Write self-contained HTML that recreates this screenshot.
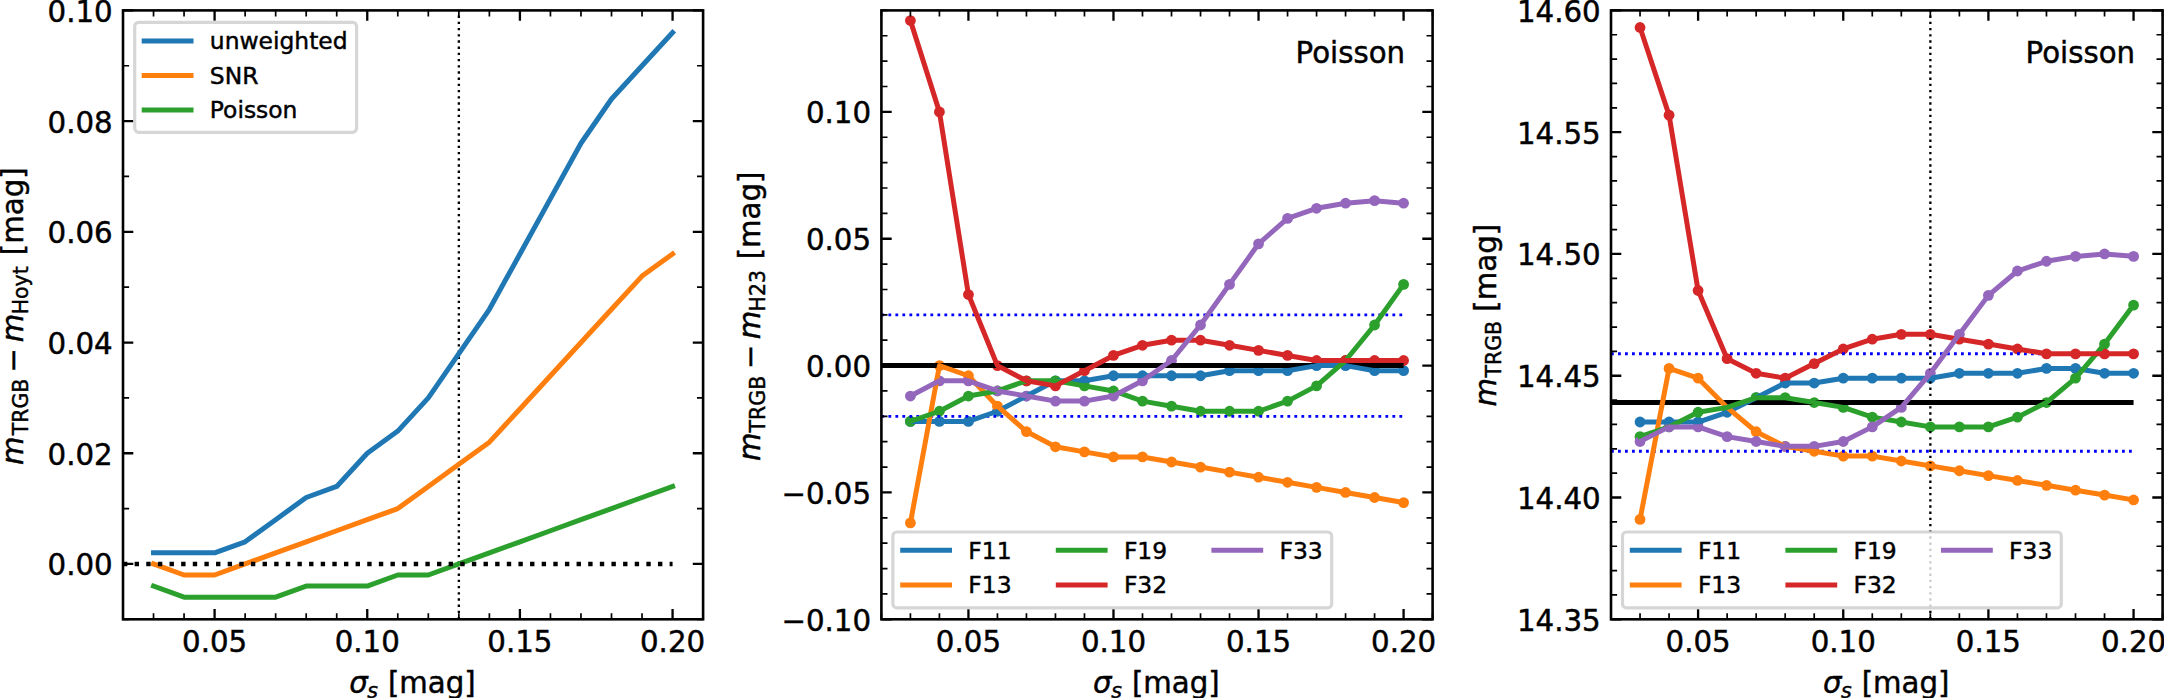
<!DOCTYPE html>
<html lang="en"><head><meta charset="utf-8"><title>TRGB smoothing comparison</title>
<style>html,body{margin:0;padding:0;background:#fff}svg{display:block}text{font-family:"DejaVu Sans", "Liberation Sans", sans-serif;font-size:29.25px;fill:#000;stroke:#000;stroke-width:.45px}</style>
</head><body>
<svg width="2164" height="698" viewBox="0 0 2164 698">
<rect width="2164" height="698" fill="#fff"/>
<g id="panel1">
<line x1="458.85" y1="619.3" x2="458.85" y2="10.4" stroke="#000" stroke-width="2.34" stroke-dasharray="2.34 3.86"/>
<polyline points="153.53,552.87 184.06,552.87 214.59,552.87 245.13,541.8 275.66,519.66 306.19,497.52 336.72,486.45 367.25,453.24 397.78,431.09 428.32,397.88 458.85,353.6 489.38,309.31 519.91,253.96 550.44,198.61 580.97,143.25 611.51,98.97 642.04,65.75 672.57,32.54" fill="none" stroke="#1f77b4" stroke-width="5.0" stroke-linecap="square" stroke-linejoin="round"/>
<polyline points="153.53,563.95 184.06,575.02 214.59,575.02 245.13,563.95 275.66,552.87 306.19,541.8 336.72,530.73 367.25,519.66 397.78,508.59 428.32,486.45 458.85,464.31 489.38,442.17 519.91,408.95 550.44,375.74 580.97,342.53 611.51,309.31 642.04,276.1 672.57,253.96" fill="none" stroke="#ff7f0e" stroke-width="5.0" stroke-linecap="square" stroke-linejoin="round"/>
<polyline points="153.53,586.09 184.06,597.16 214.59,597.16 245.13,597.16 275.66,597.16 306.19,586.09 336.72,586.09 367.25,586.09 397.78,575.02 428.32,575.02 458.85,563.95 489.38,552.87 519.91,541.8 550.44,530.73 580.97,519.66 611.51,508.59 642.04,497.52 672.57,486.45" fill="none" stroke="#2ca02c" stroke-width="5.0" stroke-linecap="square" stroke-linejoin="round"/>
<line x1="123" y1="563.95" x2="672.57" y2="563.95" stroke="#000" stroke-width="4.4" stroke-dasharray="4.39 7.24"/>
<path d="M214.59 619.3v-10.3 M214.59 10.4v10.3 M367.25 619.3v-10.3 M367.25 10.4v10.3 M519.91 619.3v-10.3 M519.91 10.4v10.3 M672.57 619.3v-10.3 M672.57 10.4v10.3 M123 563.95h10.3 M703.1 563.95h-10.3 M123 453.24h10.3 M703.1 453.24h-10.3 M123 342.53h10.3 M703.1 342.53h-10.3 M123 231.82h10.3 M703.1 231.82h-10.3 M123 121.11h10.3 M703.1 121.11h-10.3 M123 10.4h10.3 M703.1 10.4h-10.3" stroke="#000" stroke-width="2.3" fill="none"/>
<path d="M123 619.3v-6.1 M123 10.4v6.1 M153.53 619.3v-6.1 M153.53 10.4v6.1 M184.06 619.3v-6.1 M184.06 10.4v6.1 M245.13 619.3v-6.1 M245.13 10.4v6.1 M275.66 619.3v-6.1 M275.66 10.4v6.1 M306.19 619.3v-6.1 M306.19 10.4v6.1 M336.72 619.3v-6.1 M336.72 10.4v6.1 M397.78 619.3v-6.1 M397.78 10.4v6.1 M428.32 619.3v-6.1 M428.32 10.4v6.1 M458.85 619.3v-6.1 M458.85 10.4v6.1 M489.38 619.3v-6.1 M489.38 10.4v6.1 M550.44 619.3v-6.1 M550.44 10.4v6.1 M580.97 619.3v-6.1 M580.97 10.4v6.1 M611.51 619.3v-6.1 M611.51 10.4v6.1 M642.04 619.3v-6.1 M642.04 10.4v6.1 M703.1 619.3v-6.1 M703.1 10.4v6.1 M123 619.3h6.1 M703.1 619.3h-6.1 M123 508.59h6.1 M703.1 508.59h-6.1 M123 397.88h6.1 M703.1 397.88h-6.1 M123 287.17h6.1 M703.1 287.17h-6.1 M123 176.46h6.1 M703.1 176.46h-6.1 M123 65.75h6.1 M703.1 65.75h-6.1" stroke="#000" stroke-width="1.7" fill="none"/>
<rect x="123" y="10.4" width="580.1" height="608.9" fill="none" stroke="#000" stroke-width="2.6"/>
<text x="214.59" y="651.9" text-anchor="middle">0.05</text>
<text x="367.25" y="651.9" text-anchor="middle">0.10</text>
<text x="519.91" y="651.9" text-anchor="middle">0.15</text>
<text x="672.57" y="651.9" text-anchor="middle">0.20</text>
<text x="112.7" y="575.45" text-anchor="end">0.00</text>
<text x="112.7" y="464.74" text-anchor="end">0.02</text>
<text x="112.7" y="354.03" text-anchor="end">0.04</text>
<text x="112.7" y="243.32" text-anchor="end">0.06</text>
<text x="112.7" y="132.61" text-anchor="end">0.08</text>
<text x="112.7" y="21.9" text-anchor="end">0.10</text>
<text y="692.7"><tspan x="349.15" font-style="italic">σ</tspan><tspan x="367.35" dy="4.8" style="font-size:20.47px" font-style="italic">s</tspan><tspan x="378.65" dy="-4.8"> [mag]</tspan></text>
<rect x="134.7" y="22.3" width="221.9" height="110" rx="4" ry="4" fill="#fff" fill-opacity="0.8" stroke="#ccc" stroke-opacity="0.8" stroke-width="3.2"/>
<line x1="144.2" y1="41" x2="191" y2="41" stroke="#1f77b4" stroke-width="5.0" stroke-linecap="square"/>
<text x="209.82" y="49.4" style="font-size:23.4px">unweighted</text>
<line x1="144.2" y1="75.5" x2="191" y2="75.5" stroke="#ff7f0e" stroke-width="5.0" stroke-linecap="square"/>
<text x="209.82" y="83.9" style="font-size:23.4px">SNR</text>
<line x1="144.2" y1="110" x2="191" y2="110" stroke="#2ca02c" stroke-width="5.0" stroke-linecap="square"/>
<text x="209.82" y="118.4" style="font-size:23.4px">Poisson</text>
</g>
<text transform="translate(22.9 315) rotate(-90)"><tspan x="-150.1" y="0" font-style="italic">m</tspan><tspan x="-120.2" y="5.2" style="font-size:20.47px">TRGB</tspan><tspan x="-57.5" y="0">−</tspan><tspan x="-27.3" y="0" font-style="italic">m</tspan><tspan x="0.7" y="5.2" style="font-size:20.47px">Hoyt</tspan><tspan x="50.5" y="0"> [mag]</tspan></text>
<g id="panel2">
<g fill="#1f77b4"><circle cx="910.41" cy="421.41" r="5.4"/><circle cx="939.42" cy="421.41" r="5.4"/><circle cx="968.43" cy="421.41" r="5.4"/><circle cx="997.44" cy="411.26" r="5.4"/><circle cx="1026.45" cy="396.04" r="5.4"/><circle cx="1055.46" cy="380.81" r="5.4"/><circle cx="1084.47" cy="380.81" r="5.4"/><circle cx="1113.48" cy="375.74" r="5.4"/><circle cx="1142.49" cy="375.74" r="5.4"/><circle cx="1171.51" cy="375.74" r="5.4"/><circle cx="1200.52" cy="375.74" r="5.4"/><circle cx="1229.53" cy="370.67" r="5.4"/><circle cx="1258.54" cy="370.67" r="5.4"/><circle cx="1287.55" cy="370.67" r="5.4"/><circle cx="1316.56" cy="365.59" r="5.4"/><circle cx="1345.57" cy="365.59" r="5.4"/><circle cx="1374.58" cy="370.67" r="5.4"/><circle cx="1403.59" cy="370.67" r="5.4"/></g>
<g fill="#ff7f0e"><circle cx="910.41" cy="522.89" r="5.4"/><circle cx="939.42" cy="365.59" r="5.4"/><circle cx="968.43" cy="375.74" r="5.4"/><circle cx="997.44" cy="406.18" r="5.4"/><circle cx="1026.45" cy="431.56" r="5.4"/><circle cx="1055.46" cy="446.78" r="5.4"/><circle cx="1084.47" cy="451.85" r="5.4"/><circle cx="1113.48" cy="456.93" r="5.4"/><circle cx="1142.49" cy="456.93" r="5.4"/><circle cx="1171.51" cy="462" r="5.4"/><circle cx="1200.52" cy="467.07" r="5.4"/><circle cx="1229.53" cy="472.15" r="5.4"/><circle cx="1258.54" cy="477.22" r="5.4"/><circle cx="1287.55" cy="482.3" r="5.4"/><circle cx="1316.56" cy="487.37" r="5.4"/><circle cx="1345.57" cy="492.45" r="5.4"/><circle cx="1374.58" cy="497.52" r="5.4"/><circle cx="1403.59" cy="502.59" r="5.4"/></g>
<g fill="#2ca02c"><circle cx="910.41" cy="421.41" r="5.4"/><circle cx="939.42" cy="411.26" r="5.4"/><circle cx="968.43" cy="396.04" r="5.4"/><circle cx="997.44" cy="390.96" r="5.4"/><circle cx="1026.45" cy="380.81" r="5.4"/><circle cx="1055.46" cy="380.81" r="5.4"/><circle cx="1084.47" cy="385.89" r="5.4"/><circle cx="1113.48" cy="390.96" r="5.4"/><circle cx="1142.49" cy="401.11" r="5.4"/><circle cx="1171.51" cy="406.18" r="5.4"/><circle cx="1200.52" cy="411.26" r="5.4"/><circle cx="1229.53" cy="411.26" r="5.4"/><circle cx="1258.54" cy="411.26" r="5.4"/><circle cx="1287.55" cy="401.11" r="5.4"/><circle cx="1316.56" cy="385.89" r="5.4"/><circle cx="1345.57" cy="360.52" r="5.4"/><circle cx="1374.58" cy="325" r="5.4"/><circle cx="1403.59" cy="284.41" r="5.4"/></g>
<g fill="#d62728"><circle cx="910.41" cy="20.55" r="5.4"/><circle cx="939.42" cy="111.88" r="5.4"/><circle cx="968.43" cy="294.55" r="5.4"/><circle cx="997.44" cy="365.59" r="5.4"/><circle cx="1026.45" cy="380.81" r="5.4"/><circle cx="1055.46" cy="385.89" r="5.4"/><circle cx="1084.47" cy="370.67" r="5.4"/><circle cx="1113.48" cy="355.44" r="5.4"/><circle cx="1142.49" cy="345.29" r="5.4"/><circle cx="1171.51" cy="340.22" r="5.4"/><circle cx="1200.52" cy="340.22" r="5.4"/><circle cx="1229.53" cy="345.29" r="5.4"/><circle cx="1258.54" cy="350.37" r="5.4"/><circle cx="1287.55" cy="355.44" r="5.4"/><circle cx="1316.56" cy="360.52" r="5.4"/><circle cx="1345.57" cy="360.52" r="5.4"/><circle cx="1374.58" cy="360.52" r="5.4"/><circle cx="1403.59" cy="360.52" r="5.4"/></g>
<g fill="#9467bd"><circle cx="910.41" cy="396.04" r="5.4"/><circle cx="939.42" cy="380.81" r="5.4"/><circle cx="968.43" cy="380.81" r="5.4"/><circle cx="997.44" cy="390.96" r="5.4"/><circle cx="1026.45" cy="396.04" r="5.4"/><circle cx="1055.46" cy="401.11" r="5.4"/><circle cx="1084.47" cy="401.11" r="5.4"/><circle cx="1113.48" cy="396.04" r="5.4"/><circle cx="1142.49" cy="380.81" r="5.4"/><circle cx="1171.51" cy="360.52" r="5.4"/><circle cx="1200.52" cy="325" r="5.4"/><circle cx="1229.53" cy="284.41" r="5.4"/><circle cx="1258.54" cy="243.81" r="5.4"/><circle cx="1287.55" cy="218.44" r="5.4"/><circle cx="1316.56" cy="208.29" r="5.4"/><circle cx="1345.57" cy="203.22" r="5.4"/><circle cx="1374.58" cy="200.68" r="5.4"/><circle cx="1403.59" cy="203.22" r="5.4"/></g>
<line x1="881.4" y1="365.59" x2="1403.59" y2="365.59" stroke="#000" stroke-width="5.0"/>
<line x1="881.4" y1="314.85" x2="1403.59" y2="314.85" stroke="#00f" stroke-width="2.9" stroke-dasharray="2.8 4.2"/>
<line x1="881.4" y1="416.33" x2="1403.59" y2="416.33" stroke="#00f" stroke-width="2.9" stroke-dasharray="2.8 4.2"/>
<polyline points="910.41,421.41 939.42,421.41 968.43,421.41 997.44,411.26 1026.45,396.04 1055.46,380.81 1084.47,380.81 1113.48,375.74 1142.49,375.74 1171.51,375.74 1200.52,375.74 1229.53,370.67 1258.54,370.67 1287.55,370.67 1316.56,365.59 1345.57,365.59 1374.58,370.67 1403.59,370.67" fill="none" stroke="#1f77b4" stroke-width="5.0" stroke-linecap="square" stroke-linejoin="round"/>
<polyline points="910.41,522.89 939.42,365.59 968.43,375.74 997.44,406.18 1026.45,431.56 1055.46,446.78 1084.47,451.85 1113.48,456.93 1142.49,456.93 1171.51,462 1200.52,467.07 1229.53,472.15 1258.54,477.22 1287.55,482.3 1316.56,487.37 1345.57,492.45 1374.58,497.52 1403.59,502.59" fill="none" stroke="#ff7f0e" stroke-width="5.0" stroke-linecap="square" stroke-linejoin="round"/>
<polyline points="910.41,421.41 939.42,411.26 968.43,396.04 997.44,390.96 1026.45,380.81 1055.46,380.81 1084.47,385.89 1113.48,390.96 1142.49,401.11 1171.51,406.18 1200.52,411.26 1229.53,411.26 1258.54,411.26 1287.55,401.11 1316.56,385.89 1345.57,360.52 1374.58,325 1403.59,284.41" fill="none" stroke="#2ca02c" stroke-width="5.0" stroke-linecap="square" stroke-linejoin="round"/>
<polyline points="910.41,20.55 939.42,111.88 968.43,294.55 997.44,365.59 1026.45,380.81 1055.46,385.89 1084.47,370.67 1113.48,355.44 1142.49,345.29 1171.51,340.22 1200.52,340.22 1229.53,345.29 1258.54,350.37 1287.55,355.44 1316.56,360.52 1345.57,360.52 1374.58,360.52 1403.59,360.52" fill="none" stroke="#d62728" stroke-width="5.0" stroke-linecap="square" stroke-linejoin="round"/>
<polyline points="910.41,396.04 939.42,380.81 968.43,380.81 997.44,390.96 1026.45,396.04 1055.46,401.11 1084.47,401.11 1113.48,396.04 1142.49,380.81 1171.51,360.52 1200.52,325 1229.53,284.41 1258.54,243.81 1287.55,218.44 1316.56,208.29 1345.57,203.22 1374.58,200.68 1403.59,203.22" fill="none" stroke="#9467bd" stroke-width="5.0" stroke-linecap="square" stroke-linejoin="round"/>
<path d="M968.43 619.3v-10.3 M968.43 10.4v10.3 M1113.48 619.3v-10.3 M1113.48 10.4v10.3 M1258.54 619.3v-10.3 M1258.54 10.4v10.3 M1403.59 619.3v-10.3 M1403.59 10.4v10.3 M881.4 619.3h10.3 M1432.6 619.3h-10.3 M881.4 492.45h10.3 M1432.6 492.45h-10.3 M881.4 365.59h10.3 M1432.6 365.59h-10.3 M881.4 238.74h10.3 M1432.6 238.74h-10.3 M881.4 111.88h10.3 M1432.6 111.88h-10.3" stroke="#000" stroke-width="2.3" fill="none"/>
<path d="M881.4 619.3v-6.1 M881.4 10.4v6.1 M910.41 619.3v-6.1 M910.41 10.4v6.1 M939.42 619.3v-6.1 M939.42 10.4v6.1 M997.44 619.3v-6.1 M997.44 10.4v6.1 M1026.45 619.3v-6.1 M1026.45 10.4v6.1 M1055.46 619.3v-6.1 M1055.46 10.4v6.1 M1084.47 619.3v-6.1 M1084.47 10.4v6.1 M1142.49 619.3v-6.1 M1142.49 10.4v6.1 M1171.51 619.3v-6.1 M1171.51 10.4v6.1 M1200.52 619.3v-6.1 M1200.52 10.4v6.1 M1229.53 619.3v-6.1 M1229.53 10.4v6.1 M1287.55 619.3v-6.1 M1287.55 10.4v6.1 M1316.56 619.3v-6.1 M1316.56 10.4v6.1 M1345.57 619.3v-6.1 M1345.57 10.4v6.1 M1374.58 619.3v-6.1 M1374.58 10.4v6.1 M1432.6 619.3v-6.1 M1432.6 10.4v6.1 M881.4 593.93h6.1 M1432.6 593.93h-6.1 M881.4 568.56h6.1 M1432.6 568.56h-6.1 M881.4 543.19h6.1 M1432.6 543.19h-6.1 M881.4 517.82h6.1 M1432.6 517.82h-6.1 M881.4 467.07h6.1 M1432.6 467.07h-6.1 M881.4 441.7h6.1 M1432.6 441.7h-6.1 M881.4 416.33h6.1 M1432.6 416.33h-6.1 M881.4 390.96h6.1 M1432.6 390.96h-6.1 M881.4 340.22h6.1 M1432.6 340.22h-6.1 M881.4 314.85h6.1 M1432.6 314.85h-6.1 M881.4 289.48h6.1 M1432.6 289.48h-6.1 M881.4 264.11h6.1 M1432.6 264.11h-6.1 M881.4 213.37h6.1 M1432.6 213.37h-6.1 M881.4 188h6.1 M1432.6 188h-6.1 M881.4 162.63h6.1 M1432.6 162.63h-6.1 M881.4 137.25h6.1 M1432.6 137.25h-6.1 M881.4 86.51h6.1 M1432.6 86.51h-6.1 M881.4 61.14h6.1 M1432.6 61.14h-6.1 M881.4 35.77h6.1 M1432.6 35.77h-6.1 M881.4 10.4h6.1 M1432.6 10.4h-6.1" stroke="#000" stroke-width="1.7" fill="none"/>
<rect x="881.4" y="10.4" width="551.2" height="608.9" fill="none" stroke="#000" stroke-width="2.6"/>
<text x="968.43" y="651.9" text-anchor="middle">0.05</text>
<text x="1113.48" y="651.9" text-anchor="middle">0.10</text>
<text x="1258.54" y="651.9" text-anchor="middle">0.15</text>
<text x="1403.59" y="651.9" text-anchor="middle">0.20</text>
<text x="871.1" y="630.8" text-anchor="end">−0.10</text>
<text x="871.1" y="503.95" text-anchor="end">−0.05</text>
<text x="871.1" y="377.09" text-anchor="end">0.00</text>
<text x="871.1" y="250.24" text-anchor="end">0.05</text>
<text x="871.1" y="123.38" text-anchor="end">0.10</text>
<text y="692.7"><tspan x="1093.1" font-style="italic">σ</tspan><tspan x="1111.3" dy="4.8" style="font-size:20.47px" font-style="italic">s</tspan><tspan x="1122.6" dy="-4.8"> [mag]</tspan></text>
<text x="1405.14" y="63.3" text-anchor="end">Poisson</text>
<rect x="892.9" y="532" width="438.8" height="75.9" rx="4" ry="4" fill="#fff" fill-opacity="0.8" stroke="#ccc" stroke-opacity="0.8" stroke-width="3.2"/>
<line x1="902.7" y1="550.2" x2="949.5" y2="550.2" stroke="#1f77b4" stroke-width="5.0" stroke-linecap="square"/>
<text x="968.32" y="558.6" style="font-size:23.4px">F11</text>
<line x1="902.7" y1="584.9" x2="949.5" y2="584.9" stroke="#ff7f0e" stroke-width="5.0" stroke-linecap="square"/>
<text x="968.32" y="593.3" style="font-size:23.4px">F13</text>
<line x1="1058.3" y1="550.2" x2="1105.1" y2="550.2" stroke="#2ca02c" stroke-width="5.0" stroke-linecap="square"/>
<text x="1123.92" y="558.6" style="font-size:23.4px">F19</text>
<line x1="1058.3" y1="584.9" x2="1105.1" y2="584.9" stroke="#d62728" stroke-width="5.0" stroke-linecap="square"/>
<text x="1123.92" y="593.3" style="font-size:23.4px">F32</text>
<line x1="1213.9" y1="550.2" x2="1260.7" y2="550.2" stroke="#9467bd" stroke-width="5.0" stroke-linecap="square"/>
<text x="1279.52" y="558.6" style="font-size:23.4px">F33</text>
</g>
<text transform="translate(759.7 315) rotate(-90)"><tspan x="-146" y="0" font-style="italic">m</tspan><tspan x="-117.4" y="5.2" style="font-size:20.47px">TRGB</tspan><tspan x="-54" y="0">−</tspan><tspan x="-24.2" y="0" font-style="italic">m</tspan><tspan x="3.5" y="5.2" style="font-size:20.47px">H23</tspan><tspan x="46.4" y="0"> [mag]</tspan></text>
<g id="panel3">
<g fill="#1f77b4"><circle cx="1640.03" cy="422.02" r="5.4"/><circle cx="1669.06" cy="422.02" r="5.4"/><circle cx="1698.09" cy="422.02" r="5.4"/><circle cx="1727.13" cy="412.27" r="5.4"/><circle cx="1756.16" cy="397.66" r="5.4"/><circle cx="1785.19" cy="383.05" r="5.4"/><circle cx="1814.22" cy="383.05" r="5.4"/><circle cx="1843.25" cy="378.18" r="5.4"/><circle cx="1872.28" cy="378.18" r="5.4"/><circle cx="1901.32" cy="378.18" r="5.4"/><circle cx="1930.35" cy="378.18" r="5.4"/><circle cx="1959.38" cy="373.3" r="5.4"/><circle cx="1988.41" cy="373.3" r="5.4"/><circle cx="2017.44" cy="373.3" r="5.4"/><circle cx="2046.47" cy="368.43" r="5.4"/><circle cx="2075.51" cy="368.43" r="5.4"/><circle cx="2104.54" cy="373.3" r="5.4"/><circle cx="2133.57" cy="373.3" r="5.4"/></g>
<g fill="#ff7f0e"><circle cx="1640.03" cy="519.44" r="5.4"/><circle cx="1669.06" cy="368.43" r="5.4"/><circle cx="1698.09" cy="378.18" r="5.4"/><circle cx="1727.13" cy="407.4" r="5.4"/><circle cx="1756.16" cy="431.76" r="5.4"/><circle cx="1785.19" cy="446.37" r="5.4"/><circle cx="1814.22" cy="451.24" r="5.4"/><circle cx="1843.25" cy="456.11" r="5.4"/><circle cx="1872.28" cy="456.11" r="5.4"/><circle cx="1901.32" cy="460.99" r="5.4"/><circle cx="1930.35" cy="465.86" r="5.4"/><circle cx="1959.38" cy="470.73" r="5.4"/><circle cx="1988.41" cy="475.6" r="5.4"/><circle cx="2017.44" cy="480.47" r="5.4"/><circle cx="2046.47" cy="485.34" r="5.4"/><circle cx="2075.51" cy="490.21" r="5.4"/><circle cx="2104.54" cy="495.08" r="5.4"/><circle cx="2133.57" cy="499.96" r="5.4"/></g>
<g fill="#2ca02c"><circle cx="1640.03" cy="436.63" r="5.4"/><circle cx="1669.06" cy="426.89" r="5.4"/><circle cx="1698.09" cy="412.27" r="5.4"/><circle cx="1727.13" cy="407.4" r="5.4"/><circle cx="1756.16" cy="397.66" r="5.4"/><circle cx="1785.19" cy="397.66" r="5.4"/><circle cx="1814.22" cy="402.53" r="5.4"/><circle cx="1843.25" cy="407.4" r="5.4"/><circle cx="1872.28" cy="417.15" r="5.4"/><circle cx="1901.32" cy="422.02" r="5.4"/><circle cx="1930.35" cy="426.89" r="5.4"/><circle cx="1959.38" cy="426.89" r="5.4"/><circle cx="1988.41" cy="426.89" r="5.4"/><circle cx="2017.44" cy="417.15" r="5.4"/><circle cx="2046.47" cy="402.53" r="5.4"/><circle cx="2075.51" cy="378.18" r="5.4"/><circle cx="2104.54" cy="344.08" r="5.4"/><circle cx="2133.57" cy="305.11" r="5.4"/></g>
<g fill="#d62728"><circle cx="1640.03" cy="27.45" r="5.4"/><circle cx="1669.06" cy="115.13" r="5.4"/><circle cx="1698.09" cy="290.49" r="5.4"/><circle cx="1727.13" cy="358.69" r="5.4"/><circle cx="1756.16" cy="373.3" r="5.4"/><circle cx="1785.19" cy="378.18" r="5.4"/><circle cx="1814.22" cy="363.56" r="5.4"/><circle cx="1843.25" cy="348.95" r="5.4"/><circle cx="1872.28" cy="339.21" r="5.4"/><circle cx="1901.32" cy="334.33" r="5.4"/><circle cx="1930.35" cy="334.33" r="5.4"/><circle cx="1959.38" cy="339.21" r="5.4"/><circle cx="1988.41" cy="344.08" r="5.4"/><circle cx="2017.44" cy="348.95" r="5.4"/><circle cx="2046.47" cy="353.82" r="5.4"/><circle cx="2075.51" cy="353.82" r="5.4"/><circle cx="2104.54" cy="353.82" r="5.4"/><circle cx="2133.57" cy="353.82" r="5.4"/></g>
<g fill="#9467bd"><circle cx="1640.03" cy="441.5" r="5.4"/><circle cx="1669.06" cy="426.89" r="5.4"/><circle cx="1698.09" cy="426.89" r="5.4"/><circle cx="1727.13" cy="436.63" r="5.4"/><circle cx="1756.16" cy="441.5" r="5.4"/><circle cx="1785.19" cy="446.37" r="5.4"/><circle cx="1814.22" cy="446.37" r="5.4"/><circle cx="1843.25" cy="441.5" r="5.4"/><circle cx="1872.28" cy="426.89" r="5.4"/><circle cx="1901.32" cy="407.4" r="5.4"/><circle cx="1930.35" cy="373.3" r="5.4"/><circle cx="1959.38" cy="334.33" r="5.4"/><circle cx="1988.41" cy="295.37" r="5.4"/><circle cx="2017.44" cy="271.01" r="5.4"/><circle cx="2046.47" cy="261.27" r="5.4"/><circle cx="2075.51" cy="256.4" r="5.4"/><circle cx="2104.54" cy="253.96" r="5.4"/><circle cx="2133.57" cy="256.4" r="5.4"/></g>
<line x1="1611" y1="402.53" x2="2133.57" y2="402.53" stroke="#000" stroke-width="5.0"/>
<line x1="1611" y1="353.82" x2="2133.57" y2="353.82" stroke="#00f" stroke-width="2.9" stroke-dasharray="2.8 4.2"/>
<line x1="1611" y1="451.24" x2="2133.57" y2="451.24" stroke="#00f" stroke-width="2.9" stroke-dasharray="2.8 4.2"/>
<line x1="1930.35" y1="619.3" x2="1930.35" y2="10.4" stroke="#000" stroke-width="2.34" stroke-dasharray="2.34 3.86"/>
<polyline points="1640.03,422.02 1669.06,422.02 1698.09,422.02 1727.13,412.27 1756.16,397.66 1785.19,383.05 1814.22,383.05 1843.25,378.18 1872.28,378.18 1901.32,378.18 1930.35,378.18 1959.38,373.3 1988.41,373.3 2017.44,373.3 2046.47,368.43 2075.51,368.43 2104.54,373.3 2133.57,373.3" fill="none" stroke="#1f77b4" stroke-width="5.0" stroke-linecap="square" stroke-linejoin="round"/>
<polyline points="1640.03,519.44 1669.06,368.43 1698.09,378.18 1727.13,407.4 1756.16,431.76 1785.19,446.37 1814.22,451.24 1843.25,456.11 1872.28,456.11 1901.32,460.99 1930.35,465.86 1959.38,470.73 1988.41,475.6 2017.44,480.47 2046.47,485.34 2075.51,490.21 2104.54,495.08 2133.57,499.96" fill="none" stroke="#ff7f0e" stroke-width="5.0" stroke-linecap="square" stroke-linejoin="round"/>
<polyline points="1640.03,436.63 1669.06,426.89 1698.09,412.27 1727.13,407.4 1756.16,397.66 1785.19,397.66 1814.22,402.53 1843.25,407.4 1872.28,417.15 1901.32,422.02 1930.35,426.89 1959.38,426.89 1988.41,426.89 2017.44,417.15 2046.47,402.53 2075.51,378.18 2104.54,344.08 2133.57,305.11" fill="none" stroke="#2ca02c" stroke-width="5.0" stroke-linecap="square" stroke-linejoin="round"/>
<polyline points="1640.03,27.45 1669.06,115.13 1698.09,290.49 1727.13,358.69 1756.16,373.3 1785.19,378.18 1814.22,363.56 1843.25,348.95 1872.28,339.21 1901.32,334.33 1930.35,334.33 1959.38,339.21 1988.41,344.08 2017.44,348.95 2046.47,353.82 2075.51,353.82 2104.54,353.82 2133.57,353.82" fill="none" stroke="#d62728" stroke-width="5.0" stroke-linecap="square" stroke-linejoin="round"/>
<polyline points="1640.03,441.5 1669.06,426.89 1698.09,426.89 1727.13,436.63 1756.16,441.5 1785.19,446.37 1814.22,446.37 1843.25,441.5 1872.28,426.89 1901.32,407.4 1930.35,373.3 1959.38,334.33 1988.41,295.37 2017.44,271.01 2046.47,261.27 2075.51,256.4 2104.54,253.96 2133.57,256.4" fill="none" stroke="#9467bd" stroke-width="5.0" stroke-linecap="square" stroke-linejoin="round"/>
<path d="M1698.09 619.3v-10.3 M1698.09 10.4v10.3 M1843.25 619.3v-10.3 M1843.25 10.4v10.3 M1988.41 619.3v-10.3 M1988.41 10.4v10.3 M2133.57 619.3v-10.3 M2133.57 10.4v10.3 M1611 619.3h10.3 M2162.6 619.3h-10.3 M1611 497.52h10.3 M2162.6 497.52h-10.3 M1611 375.74h10.3 M2162.6 375.74h-10.3 M1611 253.96h10.3 M2162.6 253.96h-10.3 M1611 132.18h10.3 M2162.6 132.18h-10.3 M1611 10.4h10.3 M2162.6 10.4h-10.3" stroke="#000" stroke-width="2.3" fill="none"/>
<path d="M1611 619.3v-6.1 M1611 10.4v6.1 M1640.03 619.3v-6.1 M1640.03 10.4v6.1 M1669.06 619.3v-6.1 M1669.06 10.4v6.1 M1727.13 619.3v-6.1 M1727.13 10.4v6.1 M1756.16 619.3v-6.1 M1756.16 10.4v6.1 M1785.19 619.3v-6.1 M1785.19 10.4v6.1 M1814.22 619.3v-6.1 M1814.22 10.4v6.1 M1872.28 619.3v-6.1 M1872.28 10.4v6.1 M1901.32 619.3v-6.1 M1901.32 10.4v6.1 M1930.35 619.3v-6.1 M1930.35 10.4v6.1 M1959.38 619.3v-6.1 M1959.38 10.4v6.1 M2017.44 619.3v-6.1 M2017.44 10.4v6.1 M2046.47 619.3v-6.1 M2046.47 10.4v6.1 M2075.51 619.3v-6.1 M2075.51 10.4v6.1 M2104.54 619.3v-6.1 M2104.54 10.4v6.1 M2162.6 619.3v-6.1 M2162.6 10.4v6.1 M1611 594.94h6.1 M2162.6 594.94h-6.1 M1611 570.59h6.1 M2162.6 570.59h-6.1 M1611 546.23h6.1 M2162.6 546.23h-6.1 M1611 521.88h6.1 M2162.6 521.88h-6.1 M1611 473.16h6.1 M2162.6 473.16h-6.1 M1611 448.81h6.1 M2162.6 448.81h-6.1 M1611 424.45h6.1 M2162.6 424.45h-6.1 M1611 400.1h6.1 M2162.6 400.1h-6.1 M1611 351.38h6.1 M2162.6 351.38h-6.1 M1611 327.03h6.1 M2162.6 327.03h-6.1 M1611 302.67h6.1 M2162.6 302.67h-6.1 M1611 278.32h6.1 M2162.6 278.32h-6.1 M1611 229.6h6.1 M2162.6 229.6h-6.1 M1611 205.25h6.1 M2162.6 205.25h-6.1 M1611 180.89h6.1 M2162.6 180.89h-6.1 M1611 156.54h6.1 M2162.6 156.54h-6.1 M1611 107.82h6.1 M2162.6 107.82h-6.1 M1611 83.47h6.1 M2162.6 83.47h-6.1 M1611 59.11h6.1 M2162.6 59.11h-6.1 M1611 34.76h6.1 M2162.6 34.76h-6.1" stroke="#000" stroke-width="1.7" fill="none"/>
<rect x="1611" y="10.4" width="551.6" height="608.9" fill="none" stroke="#000" stroke-width="2.6"/>
<text x="1698.09" y="651.9" text-anchor="middle">0.05</text>
<text x="1843.25" y="651.9" text-anchor="middle">0.10</text>
<text x="1988.41" y="651.9" text-anchor="middle">0.15</text>
<text x="2133.57" y="651.9" text-anchor="middle">0.20</text>
<text x="1600.7" y="630.8" text-anchor="end">14.35</text>
<text x="1600.7" y="509.02" text-anchor="end">14.40</text>
<text x="1600.7" y="387.24" text-anchor="end">14.45</text>
<text x="1600.7" y="265.46" text-anchor="end">14.50</text>
<text x="1600.7" y="143.68" text-anchor="end">14.55</text>
<text x="1600.7" y="21.9" text-anchor="end">14.60</text>
<text y="692.7"><tspan x="1822.9" font-style="italic">σ</tspan><tspan x="1841.1" dy="4.8" style="font-size:20.47px" font-style="italic">s</tspan><tspan x="1852.4" dy="-4.8"> [mag]</tspan></text>
<text x="2135.12" y="63.3" text-anchor="end">Poisson</text>
<rect x="1622.5" y="532" width="438.8" height="75.9" rx="4" ry="4" fill="#fff" fill-opacity="0.8" stroke="#ccc" stroke-opacity="0.8" stroke-width="3.2"/>
<line x1="1632.3" y1="550.2" x2="1679.1" y2="550.2" stroke="#1f77b4" stroke-width="5.0" stroke-linecap="square"/>
<text x="1697.92" y="558.6" style="font-size:23.4px">F11</text>
<line x1="1632.3" y1="584.9" x2="1679.1" y2="584.9" stroke="#ff7f0e" stroke-width="5.0" stroke-linecap="square"/>
<text x="1697.92" y="593.3" style="font-size:23.4px">F13</text>
<line x1="1787.9" y1="550.2" x2="1834.7" y2="550.2" stroke="#2ca02c" stroke-width="5.0" stroke-linecap="square"/>
<text x="1853.52" y="558.6" style="font-size:23.4px">F19</text>
<line x1="1787.9" y1="584.9" x2="1834.7" y2="584.9" stroke="#d62728" stroke-width="5.0" stroke-linecap="square"/>
<text x="1853.52" y="593.3" style="font-size:23.4px">F32</text>
<line x1="1943.5" y1="550.2" x2="1990.3" y2="550.2" stroke="#9467bd" stroke-width="5.0" stroke-linecap="square"/>
<text x="2009.12" y="558.6" style="font-size:23.4px">F33</text>
</g>
<text transform="translate(1495.5 315) rotate(-90)"><tspan x="-91.4" y="0" font-style="italic">m</tspan><tspan x="-62.5" y="5.2" style="font-size:20.47px">TRGB</tspan><tspan x="-6" y="0"> [mag]</tspan></text>
</svg></body></html>
